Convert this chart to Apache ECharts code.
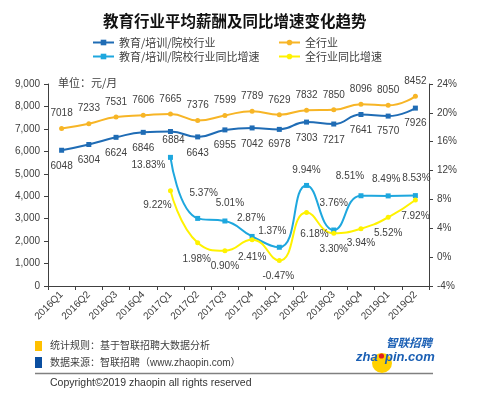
<!DOCTYPE html>
<html>
<head>
<meta charset="utf-8">
<script src="https://cdn.jsdelivr.net/npm/echarts@6/dist/echarts.min.js"></script>
<style>html,body{margin:0;padding:0;background:#fff;}#c{width:500px;height:395px;}</style>
</head>
<body>
<div id="c"></div>
<script>
var categories = ['2016Q1','2016Q2','2016Q3','2016Q4','2017Q1','2017Q2','2017Q3','2017Q4','2018Q1','2018Q2','2018Q3','2018Q4','2019Q1','2019Q2'];
var eduSalary = [6048,6304,6624,6846,6884,6643,6955,7042,6978,7303,7217,7641,7570,7926];
var allSalary = [7018,7233,7531,7606,7665,7376,7599,7789,7629,7832,7850,8096,8050,8452];
var eduGrowth = [null,null,null,null,13.83,5.37,5.01,2.87,1.37,9.94,3.76,8.51,8.49,8.53];
var allGrowth = [null,null,null,null,9.22,1.98,0.90,2.41,-0.47,6.18,3.30,3.94,5.52,7.92];
var leftTicks = [0,1000,2000,3000,4000,5000,6000,7000,8000,9000];
var rightTicks = [-4,0,4,8,12,16,20,24];

var names = ['教育/培训/院校行业','全行业','教育/培训/院校行业同比增速','全行业同比增速'];
var colors = ['#1f6cb5','#f7b526','#1ea7de','#fff200'];

// label offsets (label centre relative to point)
var eduSalaryOff = [[0,16],[0,16],[0,16],[0,16],[3,9],[0,16],[0,15],[0,16],[0,15],[0,16],[0,16],[0,16],[0,15],[0,15]];
var allSalaryOff = categories.map(function(){return [0,-15];});
var eduGrowthOff = [null,null,null,null,[-22,8],[6,-25],[5,-18],[-1,-18],[-7,-16],[0,-15],[0,-27],[-11,-19],[-2,-17],[1,-17]];
var allGrowthOff = [null,null,null,null,[-13,15],[-1,16],[0,16],[0,17],[-1,16],[8,22],[0,16],[0,15],[0,16],[0,16]];

var FONT = 'Liberation Sans, Noto Sans CJK SC, sans-serif';
var TXT = '#404040';

function build(vals, offs) {
  return vals.map(function(v, i){
    if (v === null) return '-';
    return {value: v, label: {offset: offs[i]}};
  });
}

function lineSeries(idx, vals, offs, pct, sym) {
  return {
    name: names[idx],
    type: 'line',
    yAxisIndex: pct ? 1 : 0,
    smooth: 0.5,
    symbol: sym,
    symbolSize: 5,
    showAllSymbol: true,
    itemStyle: {color: colors[idx]},
    lineStyle: {width: 2, color: colors[idx]},
    label: {
      show: true, position: 'inside',
      fontSize: 10, fontFamily: FONT, color: TXT,
      formatter: function(p){ return pct ? p.value.toFixed(2) + '%' : String(p.value); }
    },
    data: build(vals, offs),
    z: pct ? 3 : 2
  };
}

function legendAt(name, left, top) {
  return {
    data: [name], left: left, top: top, orient: 'horizontal',
    itemWidth: 21, itemHeight: 7, padding: 0,
    textStyle: {fontSize: 11, color: TXT, fontFamily: 'Noto Sans CJK SC, sans-serif'}
  };
}

var chart = echarts.init(document.getElementById('c'), null, {renderer: 'canvas'});
chart.setOption({
  animation: false,
  backgroundColor: '#fff',
  title: {
    text: '教育行业平均薪酬及同比增速变化趋势',
    left: 103, top: 13,
    padding: 0,
    textStyle: {fontSize: 15.5, fontWeight: 'bold', color: '#111', fontFamily: 'Noto Sans CJK SC, sans-serif'}
  },
  legend: [
    legendAt(names[0], 92, 37),
    legendAt(names[1], 278, 37),
    legendAt(names[2], 92, 51),
    legendAt(names[3], 278, 51)
  ],
  grid: {left: 48, right: 71, top: 84, bottom: 109, containLabel: false},
  xAxis: {
    type: 'category', data: categories, boundaryGap: true,
    axisLine: {lineStyle: {color: '#404040', width: 1}},
    axisTick: {show: true, length: 4, lineStyle: {color: '#404040'}},
    axisLabel: {rotate: 45, fontSize: 10, color: TXT, fontFamily: FONT, margin: 7, interval: 0},
    splitLine: {show: false}
  },
  yAxis: [
    {
      type: 'value', min: leftTicks[0], max: leftTicks[leftTicks.length-1], interval: 1000,
      axisLine: {show: true, lineStyle: {color: '#404040'}},
      axisTick: {show: true, length: 4, lineStyle: {color: '#404040'}},
      axisLabel: {fontSize: 10, color: TXT, fontFamily: FONT, margin: 8,
        formatter: function(v){ return v.toLocaleString('en-US'); }},
      splitLine: {show: false}
    },
    {
      type: 'value', min: rightTicks[0], max: rightTicks[rightTicks.length-1], interval: 4,
      position: 'right',
      axisLine: {show: true, lineStyle: {color: '#404040'}},
      axisTick: {show: true, length: 4, lineStyle: {color: '#404040'}},
      axisLabel: {fontSize: 10, color: TXT, fontFamily: FONT, margin: 8, formatter: '{value}%'},
      splitLine: {show: false}
    }
  ],
  series: [
    lineSeries(0, eduSalary, eduSalaryOff, false, 'rect'),
    lineSeries(1, allSalary, allSalaryOff, false, 'circle'),
    lineSeries(2, eduGrowth, eduGrowthOff, true, 'rect'),
    lineSeries(3, allGrowth, allGrowthOff, true, 'circle')
  ],
  graphic: [
    {type: 'text', left: 58, top: 77, style: {text: '单位：元/月', fontSize: 11, fill: TXT, fontFamily: 'Noto Sans CJK SC, sans-serif'}},
    {type: 'rect', shape: {x: 35, y: 341, width: 7, height: 10}, style: {fill: '#ffc000'}},
    {type: 'text', x: 50, y: 346, style: {text: '统计规则：基于智联招聘大数据分析', fontSize: 10, fill: TXT, verticalAlign: 'middle', fontFamily: FONT}},
    {type: 'rect', shape: {x: 35, y: 357, width: 7, height: 11}, style: {fill: '#0a4ea0'}},
    {type: 'text', x: 50, y: 363, style: {text: '数据来源：智联招聘（www.zhaopin.com）', fontSize: 10, fill: TXT, verticalAlign: 'middle', fontFamily: FONT}},
    {type: 'line', shape: {x1: 35, y1: 373.5, x2: 433, y2: 373.5}, style: {stroke: '#808080', lineWidth: 1.5}},
    {type: 'text', x: 50, y: 383, style: {text: 'Copyright©2019 zhaopin all rights reserved', fontSize: 10.5, fill: '#333', verticalAlign: 'middle', fontFamily: FONT}},
    {type: 'circle', shape: {cx: 382, cy: 363, r: 10}, style: {fill: '#ffd000'}},
    {type: 'text', x: 386, y: 343, style: {text: '智联招聘', fontSize: 11.5, fontWeight: 'bold', fontStyle: 'italic', fill: '#1a5fb4', verticalAlign: 'middle', fontFamily: 'Noto Sans CJK SC, sans-serif'}},
    {type: 'text', x: 356, y: 357, style: {text: 'zha', fontSize: 13, fontWeight: 'bold', fontStyle: 'italic', fill: '#1a5fb4', verticalAlign: 'middle', fontFamily: 'Liberation Sans, sans-serif'}},
    {type: 'circle', shape: {cx: 381.5, cy: 356, r: 2.6}, style: {fill: '#e02020'}},
    {type: 'text', x: 385, y: 357, style: {text: 'pin.com', fontSize: 13, fontWeight: 'bold', fontStyle: 'italic', fill: '#1a5fb4', verticalAlign: 'middle', fontFamily: 'Liberation Sans, sans-serif'}}
  ]
});
</script>
</body>
</html>
